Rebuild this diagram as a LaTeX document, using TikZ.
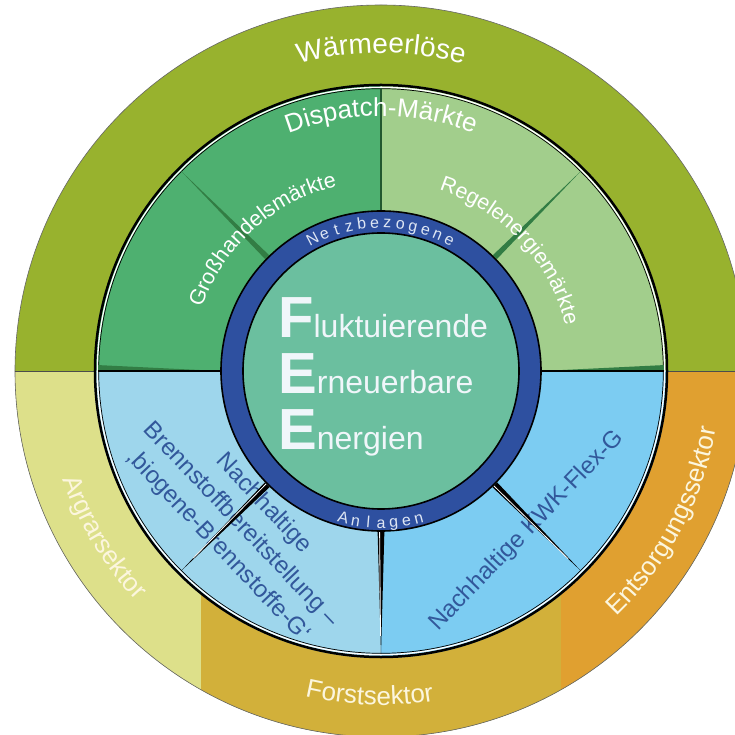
\documentclass[tikz,border=0pt]{standalone}
\usepackage{fontspec}
\setmainfont{Liberation Sans}
\usetikzlibrary{decorations.text}

\definecolor{waerme}{RGB}{152,178,46}
\definecolor{agrar}{RGB}{221,224,138}
\definecolor{forst}{RGB}{210,176,58}
\definecolor{entsorg}{RGB}{224,160,48}
\definecolor{handel}{RGB}{78,176,112}
\definecolor{regel}{RGB}{162,206,140}
\definecolor{brenn}{RGB}{158,214,236}
\definecolor{kwk}{RGB}{124,204,242}
\definecolor{netz}{RGB}{46,80,160}
\definecolor{kern}{RGB}{107,191,159}
\definecolor{schrift}{RGB}{50,88,155}
\definecolor{divgreen}{RGB}{50,125,68}
\definecolor{ringtxt}{RGB}{222,230,244}
\definecolor{feetxt}{RGB}{240,246,250}
\definecolor{sektortxt}{RGB}{252,246,222}

\newcommand{\feeinit}[1]{{\fontsize{58}{58}\selectfont\bfseries #1}}

\tikzset{
	arctext/.style={decorate, decoration={text along path, text align=center, text={#1}}},
	bluetext/.style={text=schrift, inner sep=0pt, font=\fontsize{24}{31}\selectfont},
	ringletter/.style={text=ringtxt, inner sep=0pt, anchor=base, font=\fontsize{16}{16}\selectfont},
	feeline/.style={text=feetxt, inner sep=0pt, anchor=base west, font=\fontsize{32}{32}\selectfont},
}

\begin{document}
\begin{tikzpicture}[x=1pt, y=1pt]

	\fill[white] (-381,-364) rectangle (353,371);
	\useasboundingbox (-381,-364) rectangle (353,371);

	% outer ring: sectors
	\fill[waerme] (0,0) circle (366);
	\begin{scope}
		\clip (0,0) circle (366);
		\fill[agrar] (-370,0) rectangle (-180,-370);
		\fill[forst] (-180,0) rectangle (180,-370);
		\fill[entsorg] (180,0) rectangle (370,-370);
	\end{scope}
	\draw[black!60, line width=0.6] (0,0) circle (366);
	\draw[black!70, line width=0.8] (-366,0) -- (-287,0) (287,0) -- (366,0);

	% middle ring: markets and plants
	\fill[handel] (0,0) -- (90:287) arc[start angle=90, end angle=180, radius=287] -- cycle;
	\fill[regel] (0,0) -- (0:287) arc[start angle=0, end angle=90, radius=287] -- cycle;
	\fill[brenn] (0,0) -- (180:287) arc[start angle=180, end angle=270, radius=287] -- cycle;
	\fill[kwk] (0,0) -- (270:287) arc[start angle=270, end angle=360, radius=287] -- cycle;
	\draw[black, line width=2.5] (0,0) circle (286);
	\draw[white, line width=1.3] (0,0) circle (283.6);
	\draw[black, line width=0.7] (0,0) circle (282.3);

	\foreach \a in {45,135}
		\fill[divgreen] (\a-1:161) -- (\a:283) -- (\a+1:161) -- cycle;
	\draw[divgreen!70!black, line width=1.2] (90:161) -- (90:283);
	\fill[divgreen] (0:161) -- (0:283) -- (1.2:283) -- cycle;
	\fill[divgreen] (180:161) -- (180:283) -- (178.8:283) -- cycle;
	\draw[black, line width=1.5] (-283,0) -- (-161,0) (161,0) -- (283,0);

	% curved labels
	\path[arctext={|\color{white}\fontsize{28}{28}\selectfont|Wärmeerlöse}] (130:318) arc[start angle=130, end angle=50, radius=318];
	\path[arctext={|\color{white}\fontsize{26}{26}\selectfont|Dispatch-Märkte}] (135:255) arc[start angle=135, end angle=45, radius=255];
	\path[arctext={|\color{white}\fontsize{21.5}{21.5}\selectfont|Großhandelsmärkte}] (182:190) arc[start angle=182, end angle=82, radius=190];
	\path[arctext={|\color{white}\fontsize{21.5}{21.5}\selectfont|Regelenergiemärkte}] (93:190) arc[start angle=93, end angle=-7, radius=190];
	\path[arctext={|\color{sektortxt}\fontsize{26}{26}\selectfont|Argrarsektor}] (161:336) arc[start angle=161, end angle=261, radius=336];
	\path[arctext={|\color{sektortxt}\fontsize{26}{26}\selectfont|Forstsektor}] (218:334) arc[start angle=218, end angle=318, radius=334];
	\path[arctext={|\color{sektortxt}\fontsize{26}{26}\selectfont|Entsorgungssektor}] (282:340) arc[start angle=282, end angle=382, radius=340];

	\node[bluetext, rotate=-46.5, align=center] (brennstoff) at (-140,-154) {Nachhaltige\\Brennstoffbereitstellung –\\‚biogene-Brennstoffe-G‘};
	\node[bluetext, rotate=46] (kwkflex) at (146,-160) {Nachhaltige KWK-Flex-G};

	\foreach \a in {225,270,315} {
		\fill[black] (\a-1.2:161) -- (\a:283) -- (\a+1.2:161) -- cycle;
		\draw[white, line width=0.8] (\a-0.5:161) -- (\a-0.1:265);
	}

	% grid ring and core
	\draw[fill = netz, line width=1.6] (0,0) circle (160);
	\draw[fill = kern, line width=1.6] (0,0) circle (138);

	\foreach \ch [count=\i] in {N,e,t,z,b,e,z,o,g,e,n,e}
		\node[ringletter, rotate={32.5-5*\i}] (netz\i) at ({122.5-5*\i}:143) {\ch};
	\foreach \ch [count=\i] in {A,n,l,a,g,e,n}
		\node[ringletter, rotate={(\i-4)*4.8}] (anlage\i) at ({270+(\i-4)*4.8}:157) {\ch};

	\node[feeline] (fee1) at (-103,33) {\feeinit{F}luktuierende};
	\node[feeline] (fee2) at (-103,-23) {\feeinit{E}rneuerbare};
	\node[feeline] (fee3) at (-103,-79) {\feeinit{E}nergien};

\end{tikzpicture}
\end{document}
